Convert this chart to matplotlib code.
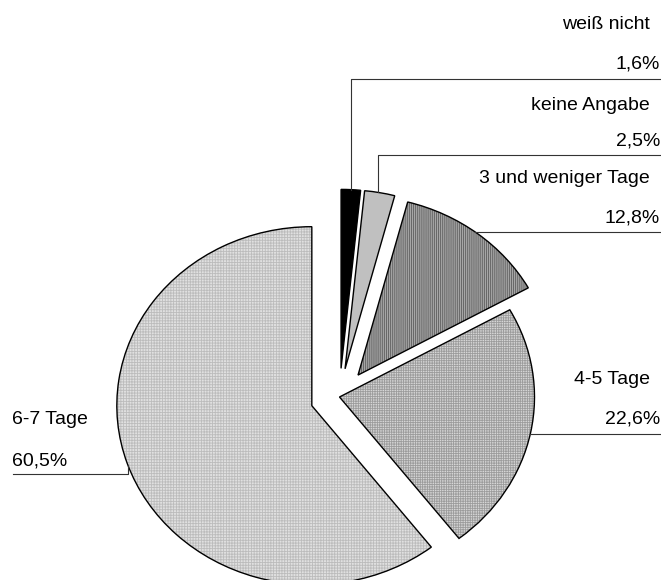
import numpy as np
import matplotlib.pyplot as plt

# Answers (share in percent), clockwise from 12 o'clock
labels = ["weiß nicht", "keine Angabe", "3 und weniger Tage", "4-5 Tage", "6-7 Tage"]
shares = [1.6, 2.5, 12.8, 22.6, 60.5]
pct_labels = [f"{v:.1f}%".replace(".", ",") for v in shares]

# styles
explode = [0.16, 0.16, 0.155, 0.0, 0.15]
fills = ["#000000", "#c0c0c0", "#a6a6a6", "#d6d6d6", "#e0e0e0"]
hatch_cols = ["#000000", "#c0c0c0", "#5c5c5c", "#9c9c9c", "#bcbcbc"]
hatches = [None, None, "|" * 8, "+" * 7, "+" * 6]

W, H = 661, 580
CX, CY, RX, RY = 339.5, 397, 195, 179  # pie centre and radii in pixels


def px(x, y):
    # pixel position -> data position
    return (x - CX) / RX, (CY - y) / RY


plt.rcParams['font.family'] = ['Liberation Sans', 'DejaVu Sans']
plt.rcParams['hatch.linewidth'] = 0.6

fig = plt.figure(figsize=(W / 100, H / 100), dpi=100)
ax = fig.add_axes([0, 0, 1, 1])

wedges, _ = ax.pie(shares, explode=explode, startangle=90, counterclock=False,
                   colors=fills, wedgeprops=dict(linewidth=0))
for w, h, hc in zip(wedges, hatches, hatch_cols):
    w.set_edgecolor(hc)
    if h:
        w.set_hatch(h)

# black outlines on top
ax.pie(shares, explode=explode, startangle=90, counterclock=False,
       wedgeprops=dict(facecolor="none", edgecolor="black", linewidth=1.0))

ax.set_aspect("auto")
ax.set_xlim(px(0, 0)[0], px(W, 0)[0])
ax.set_ylim(px(0, H)[1], px(0, 0)[1])
ax.axis("off")

# label layout in pixels: name baseline, percent baseline, leader y, drop x
layout = [
    ("right", 29, 68, 79, 351),
    ("right", 110, 145, 155, 378),
    ("right", 183, 222, 232, None),
    ("right", 384, 423, 434, None),
    ("left", 424, 465, 474, 128),
]

fs = 14
lc = "#333333"
for w, name, pct, (side, ny, py, ly, dx) in zip(wedges, labels, pct_labels, layout):
    cx, cy = w.center
    if side == "right":
        ax.text(*px(650, ny), name, ha="right", va="baseline", fontsize=fs)
        ax.text(*px(660, py), pct, ha="right", va="baseline", fontsize=fs)
        lx0 = px(W, 0)[0]
        Y = px(0, ly)[1]
        if dx is None:
            X = cx + np.sqrt(1 - (Y - cy) ** 2)
            ax.plot([lx0, X], [Y, Y], color=lc, lw=0.8)
        else:
            X = px(dx, 0)[0]
            Ya = cy + np.sqrt(1 - (X - cx) ** 2)
            ax.plot([lx0, X, X], [Y, Y, Ya], color=lc, lw=0.8)
    else:
        ax.text(*px(12, ny), name, ha="left", va="baseline", fontsize=fs)
        ax.text(*px(12, py), pct, ha="left", va="baseline", fontsize=fs)
        lx0 = px(13, 0)[0]
        Y = px(0, ly)[1]
        X = px(dx, 0)[0]
        Ya = cy - np.sqrt(1 - (X - cx) ** 2)
        ax.plot([lx0, X, X], [Y, Y, Ya], color=lc, lw=0.8)

fig.savefig("out.png", dpi=100)
